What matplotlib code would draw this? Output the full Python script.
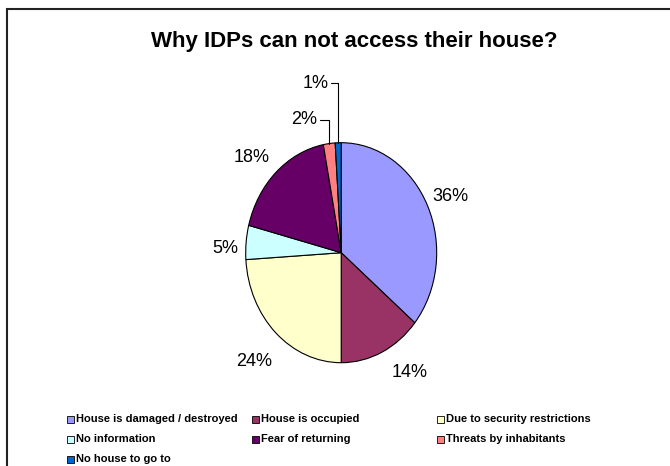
import numpy as np
import matplotlib.pyplot as plt
from matplotlib.patches import Rectangle

plt.rcParams['font.family'] = ['Liberation Sans', 'DejaVu Sans']

# data
title = 'Why IDPs can not access their house?'
reasons = ['House is damaged / destroyed', 'House is occupied', 'Due to security restrictions',
           'No information', 'Fear of returning', 'Threats by inhabitants', 'No house to go to']
shares = [36, 14, 24, 5, 18, 2, 1]
colors = ['#9999FF', '#993366', '#FFFFCC', '#CCFFFF', '#660066', '#FF8080', '#0066CC']

W, H = 670, 466
fig = plt.figure(figsize=(W / 100, H / 100), dpi=100)
ax = fig.add_axes([0, 0, 1, 1])

# pie centre / radii in pixels - the excel pie is squashed into an ellipse
cx, cy, rx, ry = 341.2, 252.7, 95.5, 110.0

wedges, texts, autotexts = ax.pie(shares, colors=colors, startangle=90, counterclock=False,
                                  autopct='%.0f%%', pctdistance=1.27,
                                  wedgeprops=dict(edgecolor='black', linewidth=0.8),
                                  textprops=dict(fontsize=13))
ax.set_aspect('auto')
ax.set_xlim(-cx / rx, (W - cx) / rx)
ax.set_ylim((cy - H) / ry, cy / ry)
ax.axis('off')

# excel nudges its outside labels a bit (pixels, x right / y down)
nudge = [(-1, 3), (17, -7), (-4, 7), (5, 9), (-7, 7)]
for t, (dx, dy) in zip(autotexts, nudge):
    x, y = t.get_position()
    t.set_position((x + dx / rx, y - dy / ry))

# small slices get dragged labels with leader lines (position in pie radii)
callouts = {5: (-0.39, 1.21), 6: (-0.27, 1.54)}
for i, pos in callouts.items():
    w = wedges[i]
    mid = np.deg2rad((w.theta1 + w.theta2) / 2)
    txt = autotexts[i].get_text()
    autotexts[i].set_visible(False)
    ax.annotate(txt, xy=(np.cos(mid), np.sin(mid)), xytext=pos, ha='center', va='center',
                fontsize=13,
                arrowprops=dict(arrowstyle='-', connectionstyle='angle,angleA=0,angleB=90,rad=0',
                                shrinkA=0, shrinkB=0, lw=0.8, color='black'))

fig.text(354 / W, 1 - 42 / H, title, ha='center', va='center', fontsize=16, fontweight='bold')

# legend, excel style: fixed column width, filled row by row
leg_x = [70, 255, 440]
for i, (lab, col) in enumerate(zip(reasons, colors)):
    r, c = divmod(i, 3)
    x = leg_x[c]
    y = 419 + 20 * r
    fig.add_artist(Rectangle(((x - 3.5) / W, 1 - (y + 3.5) / H), 7 / W, 7 / H,
                             transform=fig.transFigure, facecolor=col,
                             edgecolor='black', lw=0.6))
    fig.text((x + 6) / W, 1 - y / H, lab, fontsize=8, fontweight='bold', va='center')

# chart border (right and bottom edges fall outside the picture)
fig.add_artist(Rectangle((6.5 / W, -0.1), 2, 1 - 8.5 / H + 0.1, transform=fig.transFigure,
                         fill=False, edgecolor='#222222', lw=1.5))

fig.savefig('out.png', dpi=100)
